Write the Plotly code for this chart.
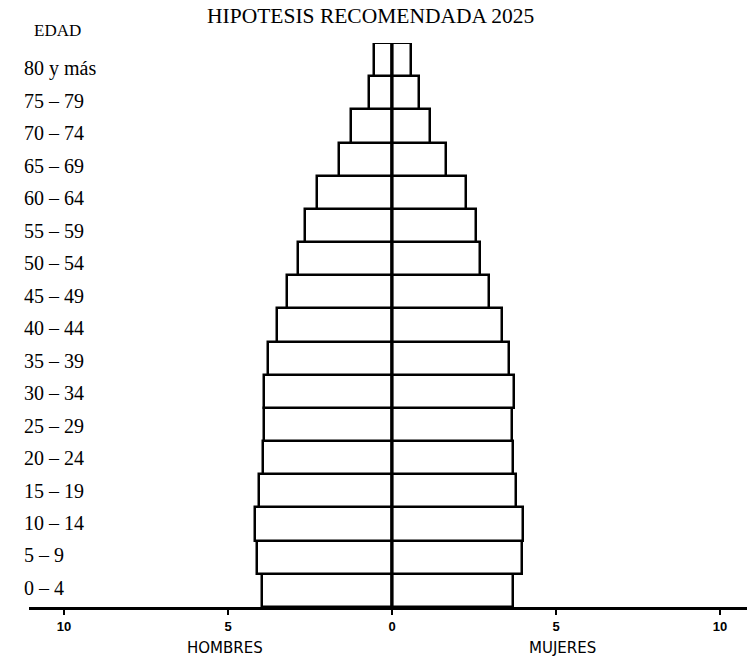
import plotly.graph_objects as go

# ---- data ----
age_groups = ["0 – 4", "5 – 9", "10 – 14", "15 – 19", "20 – 24", "25 – 29",
              "30 – 34", "35 – 39", "40 – 44", "45 – 49", "50 – 54", "55 – 59",
              "60 – 64", "65 – 69", "70 – 74", "75 – 79", "80 y más"]
hombres = [3.97, 4.12, 4.18, 4.05, 3.93, 3.90, 3.90, 3.78, 3.51, 3.20, 2.87, 2.67,
           2.28, 1.62, 1.24, 0.71, 0.54]
mujeres = [3.70, 3.96, 3.99, 3.78, 3.69, 3.66, 3.72, 3.57, 3.35, 2.96, 2.68, 2.56,
           2.25, 1.65, 1.15, 0.81, 0.58]
tick_vals = [-10, -5, 0, 5, 10]
tick_text = ["10", "5", "0", "5", "10"]
title_text = "HIPOTESIS RECOMENDADA 2025"
edad_text = "EDAD"
sex_labels = ["HOMBRES", "MUJERES"]
sex_label_pos = [-5.1, 5.2]

SERIF = "Liberation Serif, Times New Roman, serif"
SANS = "DejaVu Sans, Arial, sans-serif"
TICKSANS = "Liberation Sans, Arial, sans-serif"

fig = go.Figure()
fig.add_trace(go.Bar(
    y=list(range(len(age_groups))), x=[-v for v in hombres], orientation="h",
    width=1, marker=dict(color="white", line=dict(color="black", width=2.5)),
    showlegend=False, hoverinfo="skip"))
fig.add_trace(go.Bar(
    y=list(range(len(age_groups))), x=mujeres, orientation="h",
    width=1, marker=dict(color="white", line=dict(color="black", width=2.5)),
    showlegend=False, hoverinfo="skip"))

# central vertical line
fig.add_shape(type="line", xref="x", yref="paper", x0=0, x1=0, y0=0, y1=1,
              line=dict(color="black", width=3), layer="above")

annotations = []
for i, lab in enumerate(age_groups):
    annotations.append(dict(text=lab, xref="paper", yref="y2", x=-0.0098, y=i,
                            xanchor="left", yanchor="middle", showarrow=False,
                            font=dict(family=SERIF, size=20, color="black")))
annotations.append(dict(text=title_text, xref="paper", yref="paper", x=0.4763, y=1.0479,
                        xanchor="center", yanchor="middle", showarrow=False,
                        font=dict(family=SERIF, size=21.5, color="black")))
annotations.append(dict(text=edad_text, xref="paper", yref="paper", x=0.039, y=1.0213,
                        xanchor="center", yanchor="middle", showarrow=False,
                        font=dict(family=SERIF, size=17, color="black")))
for lab, xv in zip(sex_labels, sex_label_pos):
    annotations.append(dict(text=lab, xref="x", yref="paper", x=xv, y=-0.0727,
                            xanchor="center", yanchor="middle", showarrow=False,
                            font=dict(family=SANS, size=15, color="black")))

fig.update_layout(
    width=747, height=660,
    margin=dict(l=29, r=0, t=43, b=53),
    paper_bgcolor="white", plot_bgcolor="white",
    barmode="overlay", bargap=0,
    showlegend=False,
    xaxis=dict(range=[-11.07, 10.82], tickvals=tick_vals, ticktext=tick_text,
               showline=True, linecolor="black", linewidth=3,
               ticks="outside", ticklen=5, tickwidth=2, tickcolor="black",
               tickfont=dict(family=TICKSANS, size=13, color="black", weight="bold"),
               showgrid=False, zeroline=False, fixedrange=True),
    yaxis=dict(range=[-0.5, 16.5], visible=False, showgrid=False, zeroline=False,
               fixedrange=True),
    yaxis2=dict(range=[-0.585, 16.77], overlaying="y", anchor="x", visible=False,
                showgrid=False, zeroline=False),
    annotations=annotations,
)

fig.write_html("out.html", config={"displayModeBar": False},
               post_script="document.body.style.margin='0';")
